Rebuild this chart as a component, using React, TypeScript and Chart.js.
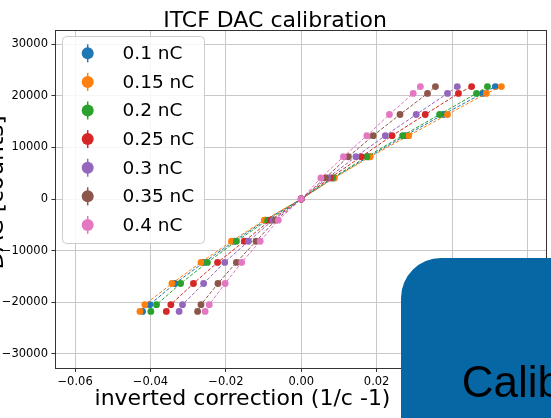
import { useEffect, useRef } from "react";
import { Chart, registerables } from "chart.js";

Chart.register(...registerables);

const TITLE = "ITCF DAC calibration";
const X_LABEL = "inverted correction (1/c -1)";
const Y_LABEL = "DAC [counts]";
const OVERLAY_TEXT = "Calibration";

// DAC set points (y values), shared by every series
const DAC_COUNTS = [-21800, -20480, -16384, -12288, -8192, -4096, 0, 4096, 8192, 12288, 16384, 20480, 21800];

const SERIES_LABELS = ["0.1 nC", "0.15 nC", "0.2 nC", "0.25 nC", "0.3 nC", "0.35 nC", "0.4 nC"];
const SERIES_COLORS = ["#1f77b4", "#ff7f0e", "#2ca02c", "#d62728", "#9467bd", "#8c564b", "#e377c2"];

// inverted correction (x values) for each charge
const X_010 = [-0.0421, -0.0402, -0.0335, -0.0258, -0.0178, -0.0095, 0, 0.0086, 0.0179, 0.0276, 0.0377, 0.0481, 0.0515];
const X_015 = [-0.0428, -0.0415, -0.0343, -0.0266, -0.0185, -0.0098, 0, 0.0088, 0.0183, 0.0285, 0.0388, 0.0491, 0.0531];
const X_020 = [-0.0399, -0.0384, -0.032, -0.0249, -0.0172, -0.0089, 0, 0.0083, 0.0174, 0.0269, 0.0367, 0.0465, 0.0494];
const X_025 = [-0.0358, -0.0346, -0.0286, -0.0222, -0.0151, -0.0081, 0, 0.0077, 0.0159, 0.0241, 0.0329, 0.0417, 0.0452];
const X_030 = [-0.0324, -0.0315, -0.0259, -0.0203, -0.014, -0.0075, 0, 0.007, 0.0145, 0.0223, 0.0305, 0.0388, 0.0414];
const X_035 = [-0.0275, -0.0266, -0.0221, -0.0172, -0.012, -0.0068, 0, 0.0064, 0.0125, 0.0191, 0.0262, 0.0335, 0.0356];
const X_040 = [-0.0255, -0.0244, -0.0202, -0.0158, -0.0109, -0.0061, 0, 0.0052, 0.0112, 0.0174, 0.0234, 0.0297, 0.0316];

const SERIES_X = [X_010, X_015, X_020, X_025, X_030, X_035, X_040];

const X_MIN = -0.0652;
const X_MAX = 0.0652;
const Y_MIN = -32768;
const Y_MAX = 32768;
const X_TICKS = [-0.06, -0.04, -0.02, 0, 0.02, 0.04, 0.06];
const Y_TICKS = [-30000, -20000, -10000, 0, 10000, 20000, 30000];

const FONT = "'DejaVu Sans', sans-serif";

function fmt(v: number, digits: number): string {
  const a = Math.abs(v);
  const s = a.toFixed(digits);
  if (v < 0 && parseFloat(s) !== 0) return "\u2212" + s;
  return s;
}

const decorPlugin = {
  id: "decor",
  afterDraw(chart: any) {
    const ctx: CanvasRenderingContext2D = chart.ctx;
    const { left, top, right, bottom } = chart.chartArea;
    ctx.save();

    // top & right spines
    ctx.strokeStyle = "#333";
    ctx.lineWidth = 1;
    ctx.beginPath();
    ctx.moveTo(left, Math.round(top) + 0.5);
    ctx.lineTo(right, Math.round(top) + 0.5);
    ctx.moveTo(Math.round(right) - 0.5, top);
    ctx.lineTo(Math.round(right) - 0.5, bottom);
    ctx.stroke();

    // legend
    const lx = 62.5, ly = 36.5, lw = 142, lh = 207;
    ctx.beginPath();
    (ctx as any).roundRect(lx, ly, lw, lh, 4);
    ctx.fillStyle = "rgba(255,255,255,0.85)";
    ctx.fill();
    ctx.strokeStyle = "#cccccc";
    ctx.stroke();
    chart.data.datasets.forEach((ds: any, i: number) => {
      const cy = 53.3 + 28.6 * i;
      const cx = 87.7;
      ctx.strokeStyle = ds.borderColor;
      ctx.lineWidth = 1.5;
      ctx.beginPath();
      ctx.moveTo(cx, cy - 9);
      ctx.lineTo(cx, cy + 9);
      ctx.stroke();
      ctx.fillStyle = ds.borderColor;
      ctx.beginPath();
      ctx.arc(cx, cy, 6, 0, Math.PI * 2);
      ctx.fill();
      ctx.fillStyle = "#000";
      ctx.font = `18.5px ${FONT}`;
      ctx.textAlign = "left";
      ctx.textBaseline = "middle";
      ctx.fillText(ds.label, 122.5, cy + 1);
    });

    // title
    ctx.fillStyle = "#000";
    ctx.font = `22px ${FONT}`;
    ctx.textAlign = "center";
    ctx.textBaseline = "alphabetic";
    ctx.fillText(TITLE, 275, 26.5);

    // x label
    ctx.fillText(X_LABEL, 242.5, 405);

    // y label (rotated, partly outside the canvas)
    ctx.save();
    ctx.translate(2.5, 192.5);
    ctx.rotate(-Math.PI / 2);
    ctx.font = `23.5px ${FONT}`;
    ctx.fillText(Y_LABEL, 0, 0);
    ctx.restore();

    // blue overlay panel
    ctx.beginPath();
    (ctx as any).roundRect(401, 258, 400, 400, 40);
    ctx.fillStyle = "#0767a5";
    ctx.fill();
    ctx.fillStyle = "#000";
    ctx.font = "44px 'Liberation Sans', Arial, sans-serif";
    ctx.textAlign = "left";
    ctx.fillText(OVERLAY_TEXT, 461.7, 396.7);

    ctx.restore();
  },
};

export default function App() {
  const ref = useRef<HTMLCanvasElement | null>(null);

  useEffect(() => {
    if (!ref.current) return;
    const datasets = SERIES_LABELS.map((label, i) => ({
      label,
      data: SERIES_X[i].map((x, j) => ({ x, y: DAC_COUNTS[j] })),
      showLine: true,
      borderColor: SERIES_COLORS[i],
      backgroundColor: SERIES_COLORS[i],
      borderWidth: 1,
      borderDash: [3.5, 1.8],
      pointRadius: 3.4,
      pointBorderWidth: 0,
      pointBackgroundColor: SERIES_COLORS[i],
      order: SERIES_LABELS.length - i,
    }));

    const chart = new Chart(ref.current, {
      type: "scatter",
      data: { datasets },
      options: {
        responsive: false,
        animation: false,
        devicePixelRatio: 1,
        layout: { padding: { top: 30, right: 4, left: 0, bottom: 0 } },
        plugins: {
          legend: { display: false },
          title: { display: false },
          tooltip: { enabled: false },
        },
        scales: {
          x: {
            type: "linear",
            min: X_MIN,
            max: X_MAX,
            afterFit: (s: any) => {
              s.height = 50;
            },
            afterBuildTicks: (s: any) => {
              s.ticks = X_TICKS.map((value) => ({ value }));
            },
            ticks: {
              autoSkip: false,
              maxRotation: 0,
              padding: 3,
              color: "#000",
              font: { family: FONT, size: 11.5 },
              callback: (v: any) => fmt(Number(v), 2),
            },
            grid: { color: "#c8c8c8", lineWidth: 1, tickColor: "#333", tickLength: 4 },
            border: { display: true, color: "#333", width: 1 },
          },
          y: {
            type: "linear",
            min: Y_MIN,
            max: Y_MAX,
            afterFit: (s: any) => {
              s.width = 55.5;
            },
            afterBuildTicks: (s: any) => {
              s.ticks = Y_TICKS.map((value) => ({ value }));
            },
            ticks: {
              autoSkip: false,
              padding: 3.5,
              color: "#000",
              font: { family: FONT, size: 11.5 },
              callback: (v: any) => fmt(Number(v), 0),
            },
            grid: { color: "#c8c8c8", lineWidth: 1, tickColor: "#333", tickLength: 4 },
            border: { display: true, color: "#333", width: 1 },
          },
        },
      },
      plugins: [decorPlugin],
    } as any);

    return () => chart.destroy();
  }, []);

  return (
    <div style={{ position: "fixed", left: 0, top: 0, width: 551, height: 418, background: "#fff" }}>
      <canvas ref={ref} width={551} height={418} style={{ display: "block", width: 551, height: 418 }} />
    </div>
  );
}
